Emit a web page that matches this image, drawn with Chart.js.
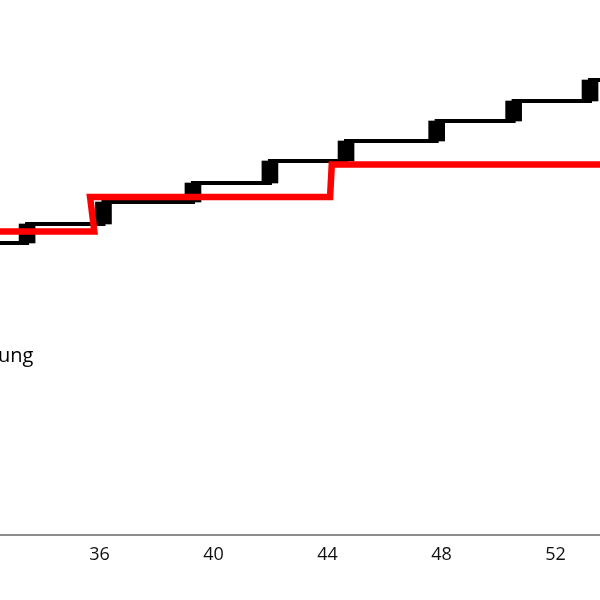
<!DOCTYPE html>
<html>
<head>
<meta charset="utf-8">
<script src="https://cdn.jsdelivr.net/npm/chart.js@4"></script>
<style>
html,body{margin:0;padding:0;background:#fff;}
#wrap{width:600px;height:600px;position:relative;}
</style>
</head>
<body>
<div id="wrap"><canvas id="c" width="600" height="600"></canvas></div>
<script>
// x ticks (age in years)
const xTicks = [36, 40, 44, 48, 52];
// black series: step positions and levels (levels has one more entry than steps)
const blackStepX = [33.46, 36.14, 39.28, 41.98, 44.65, 47.83, 50.53, 53.21];
const blackLevels = [3460, 3555, 3665, 3760, 3870, 3970, 4070, 4170, 4275];
// red series: explicit points
const redX = [32.0, 35.82, 35.67, 44.09, 44.15, 54.0];
const redY = [3518, 3518, 3690, 3690, 3852, 3852];
const legendLabel = "ung";

const blackLine = [];
blackLine.push({x: 32.0, y: blackLevels[0]});
blackStepX.forEach((sx, i) => {
  blackLine.push({x: sx, y: blackLevels[i]});
  blackLine.push({x: sx, y: blackLevels[i + 1]});
});
blackLine.push({x: 54.0, y: blackLevels[blackLevels.length - 1]});

const blackRisers = blackStepX.map((sx, i) => ({x: sx, y: [blackLevels[i], blackLevels[i + 1]]}));
const redLine = redX.map((x, i) => ({x: x, y: redY[i]}));

const textPlugin = {
  id: 'txt',
  afterDraw(chart) {
    const ctx = chart.ctx;
    ctx.save();
    ctx.fillStyle = '#000';
    ctx.font = '20px "Open Sans"';
    ctx.textAlign = 'left';
    ctx.textBaseline = 'alphabetic';
    ctx.fillText(legendLabel, -2, 362);
    ctx.restore();
  }
};

new Chart(document.getElementById('c'), {
  type: 'line',
  data: {
    datasets: [
      {
        type: 'line',
        label: 'rot',
        data: redLine,
        borderColor: '#ff0000',
        borderWidth: 6.5,
        pointRadius: 0,
        tension: 0,
        borderJoinStyle: 'miter',
        order: 0
      },
      {
        type: 'line',
        label: 'schwarz',
        data: blackLine,
        borderColor: '#000000',
        borderWidth: 4,
        pointRadius: 0,
        tension: 0,
        order: 1
      },
      {
        type: 'bar',
        label: 'stufen',
        data: blackRisers,
        backgroundColor: '#000000',
        borderWidth: 0,
        barThickness: 16,
        grouped: false,
        order: 2
      }
    ]
  },
  options: {
    responsive: false,
    animation: false,
    events: [],
    layout: {padding: 0},
    plugins: {legend: {display: false}, tooltip: {enabled: false}},
    scales: {
      x: {
        type: 'linear',
        min: 32.51,
        max: 53.56,
        offset: false,
        grid: {display: false, drawTicks: false},
        border: {display: true, color: '#8c8c8c', width: 2},
        afterBuildTicks(scale) { scale.ticks = xTicks.map(v => ({value: v})); },
        afterFit(scale) { scale.height = 65; },
        ticks: {
          color: '#111111',
          font: {family: '"Open Sans"', size: 18},
          padding: 9,
          maxRotation: 0,
          autoSkip: false
        }
      },
      y: {
        type: 'linear',
        display: false,
        min: 2000,
        max: 4675
      }
    }
  },
  plugins: [textPlugin]
});
</script>
</body>
</html>
